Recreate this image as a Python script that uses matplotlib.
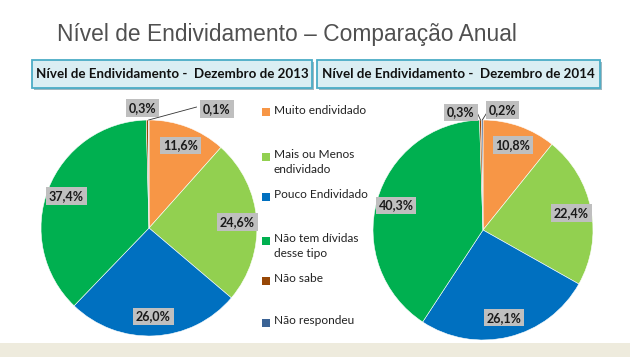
import matplotlib
matplotlib.use("Agg")
import matplotlib.pyplot as plt
import numpy as np
from matplotlib.patches import Rectangle

plt.rcParams.update({"font.family": ["Lato", "DejaVu Sans"]})

W, H = 630, 357

categories = ["Muito endividado", "Mais ou Menos\nendividado", "Pouco Endividado",
              "Não tem dívidas\ndesse tipo", "Não sabe", "Não respondeu"]
values_2013 = [11.6, 24.6, 26.0, 37.4, 0.3, 0.1]
values_2014 = [10.8, 22.4, 26.1, 40.3, 0.3, 0.2]
labels_2013 = ["11,6%", "24,6%", "26,0%", "37,4%", "0,3%", "0,1%"]
labels_2014 = ["10,8%", "22,4%", "26,1%", "40,3%", "0,3%", "0,2%"]
headers = ["Nível de Endividamento -  Dezembro de 2013",
           "Nível de Endividamento -  Dezembro de 2014"]
title = "Nível de Endividamento – Comparação Anual"

colors = ["#F79646", "#92D050", "#0070C0", "#00B050", "#974706", "#3B6395"]
LBL_BG = "#BFBFBF"

fig = plt.figure(figsize=(W / 100, H / 100), dpi=100)
fig.patch.set_facecolor("white")

# overlay in pixel coordinates (y down)
bg = fig.add_axes([0, 0, 1, 1])
bg.set_xlim(0, W)
bg.set_ylim(H, 0)
bg.axis("off")

bg.add_patch(Rectangle((0, 343), W, 14, facecolor="#EEEBDD", edgecolor="none"))
bg.text(57, 34, title, fontsize=16.4, color="#505050", va="center", ha="left",
        family=["Liberation Sans", "DejaVu Sans"])

for (x0, x1), txt in zip([(32, 312), (317, 600)], headers):
    bg.add_patch(Rectangle((x0 + 1.5, 61.5), x1 - x0, 28, facecolor="#9FB8C0",
                           edgecolor="none", zorder=1))
    bg.add_patch(Rectangle((x0, 60), x1 - x0, 28, facecolor="#DAEEF3",
                           edgecolor="#4BACC6", linewidth=1.3, zorder=2))
    bg.text((x0 + x1) / 2, 74, txt, fontsize=9.6, fontweight="bold",
            color="#111111", ha="center", va="center", zorder=3)

# legend (manual, equal slots)
leg_y = [112, 157, 197, 241, 281, 323]
for cat, col, y in zip(categories, colors, leg_y):
    bg.add_patch(Rectangle((262, y - 4), 8, 8, facecolor=col, edgecolor="none"))
    bg.text(274, y - 7.5, cat, fontsize=8.6, color="#222222", ha="left", va="top",
            linespacing=1.4)


def pie(cx, cy, r, values, labels, small):
    ax = fig.add_axes([(cx - r) / W, (H - cy - r) / H, 2 * r / W, 2 * r / H])
    wedges, _ = ax.pie(values, colors=colors, startangle=90, counterclock=False,
                       wedgeprops=dict(linewidth=0.4, edgecolor="white"))
    ax.set_xlim(-1, 1)
    ax.set_ylim(-1, 1)
    ax.axis("off")
    box = dict(boxstyle="square,pad=0.22", facecolor=LBL_BG, edgecolor="none")
    for i, (w, lab) in enumerate(zip(wedges, labels)):
        ang = np.deg2rad((w.theta1 + w.theta2) / 2)
        if i < 4:
            d = 0.82
            ax.text(d * np.cos(ang), d * np.sin(ang), lab, ha="center",
                    va="center", fontsize=9, fontweight="bold", color="#1a1a1a",
                    bbox=box)
        else:
            tx, ty, lx, ly = small[i - 4]
            ax.text(tx, ty, lab, ha="center", va="center", fontsize=9,
                    fontweight="bold", color="#1a1a1a", bbox=box, clip_on=False)
            if lx is not None:
                ax.plot([np.cos(ang), lx], [np.sin(ang), ly], color="#333333",
                        lw=0.6, clip_on=False)
    return ax


pie(149, 228, 108, values_2013, labels_2013,
    [(-0.06, 1.11, None, None), (0.63, 1.10, 0.44, 1.12)])
pie(483, 230, 110, values_2014, labels_2014,
    [(-0.2, 1.07, -0.06, 1.08), (0.18, 1.09, 0.05, 1.09)])

fig.savefig("out.png", dpi=100, facecolor="white")
